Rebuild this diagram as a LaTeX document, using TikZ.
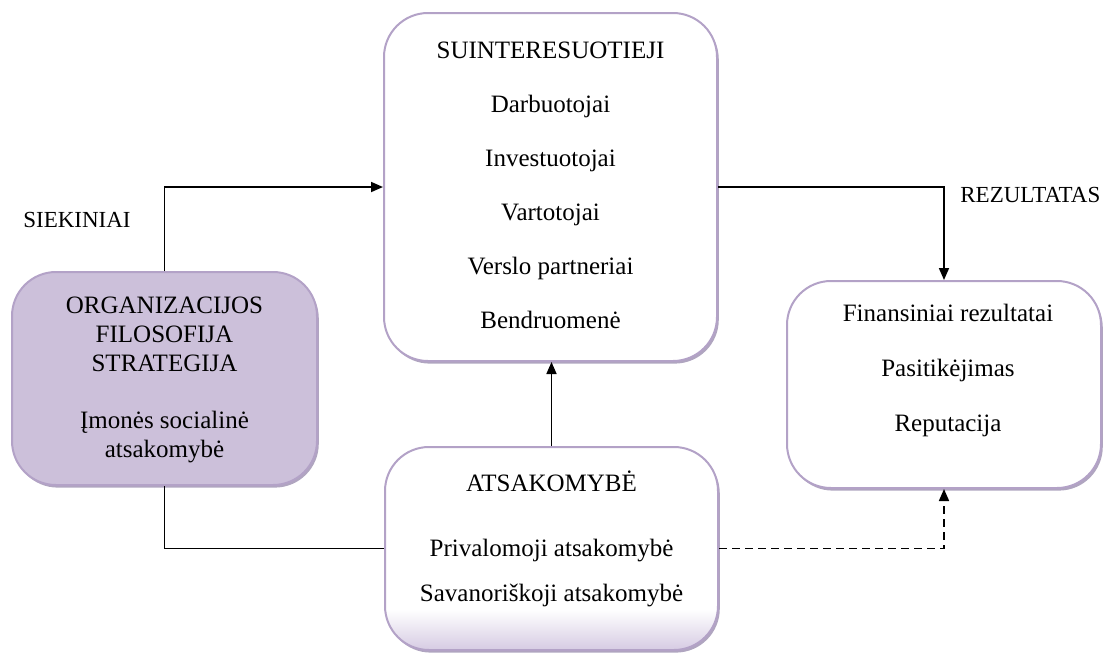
\documentclass[tikz,border=0pt]{standalone}
\usepackage{fontspec}
\setmainfont{Liberation Serif}
\usetikzlibrary{arrows.meta,fit,shadows}

\definecolor{boxline}{HTML}{B3A2C7}
\definecolor{orgfill}{HTML}{CCC0DA}
\definecolor{shadowc}{HTML}{9C8FB0}
\definecolor{lavbottom}{HTML}{D6CBE3}

% white body fading into lavender near the lower edge
\pgfdeclareverticalshading{lowfade}{100bp}{color(0bp)=(lavbottom); color(25bp)=(lavbottom); color(35bp)=(white); color(100bp)=(white)}

\tikzset{
  panel/.style={draw=boxline, line width=1pt, rounded corners=22pt, inner sep=0pt,
    fill=white,
    drop shadow={shadow xshift=0.9pt, shadow yshift=-1.3pt, fill=shadowc, opacity=0.8}},
  txt/.style={font=\fontsize{12.5}{15}\selectfont, inner sep=0pt, text height=8.3pt, text depth=0pt},
  sidetxt/.style={txt, font=\fontsize{11.5}{14}\selectfont, text height=7.6pt},
  link/.style={line width=0.85pt, draw=black},
  arr/.style={link, -{Triangle[length=6pt,width=5pt]}},
}

\begin{document}
\begin{tikzpicture}[x=0.5pt, y=-0.5pt]
\useasboundingbox (0,0) rectangle (1105,655);

% the four panels
\node[panel, fit={(384,13) (717,361)}] (suint) {};
\node[panel, fill=orgfill, fit={(12,272) (317,485)}] (org) {};
\node[panel, fit={(787,281) (1101,488)}] (res) {};
\node[panel, shading=lowfade, fit={(385,447) (718,650)}] (atsak) {};

% stakeholders
\node[txt] (s0) at (550.5,50)  {SUINTERESUOTIEJI};
\node[txt] (s1) at (550.5,104) {Darbuotojai};
\node[txt] (s2) at (550.5,158) {Investuotojai};
\node[txt] (s3) at (550.5,212) {Vartotojai};
\node[txt] (s4) at (550.5,266) {Verslo partneriai};
\node[txt] (s5) at (550.5,320) {Bendruomenė};

% organisation
\node[txt] (o0) at (164.5,305) {ORGANIZACIJOS};
\node[txt] (o1) at (164.5,334) {FILOSOFIJA};
\node[txt] (o2) at (164.5,363) {STRATEGIJA};
\node[txt] (o3) at (164.5,420) {Įmonės socialinė};
\node[txt] (o4) at (164.5,449) {atsakomybė};

% results
\node[txt] (r0) at (948,313) {Finansiniai rezultatai};
\node[txt] (r1) at (948,368) {Pasitikėjimas};
\node[txt] (r2) at (948,423) {Reputacija};

% responsibility
\node[txt] (a0) at (551.5,483) {ATSAKOMYBĖ};
\node[txt] (a1) at (551.5,548) {Privalomoji atsakomybė};
\node[txt] (a2) at (551.5,593) {Savanoriškoji atsakomybė};

% side labels
\node[sidetxt] (goals) at (77,220) {SIEKINIAI};
\node[sidetxt, anchor=west] (outcome) at (960,195) {REZULTATAS};

% connectors
\draw[arr] (org.north) |- (suint.west);
\draw[arr] (suint.east) -| (res.north);
\draw[arr] (atsak.north) -- (atsak.north |- suint.south);
\draw[link] (org.south) |- (atsak.west);
\draw[arr, dash pattern=on 4pt off 2.5pt] (atsak.east) -| (res.south);
\end{tikzpicture}
\end{document}
